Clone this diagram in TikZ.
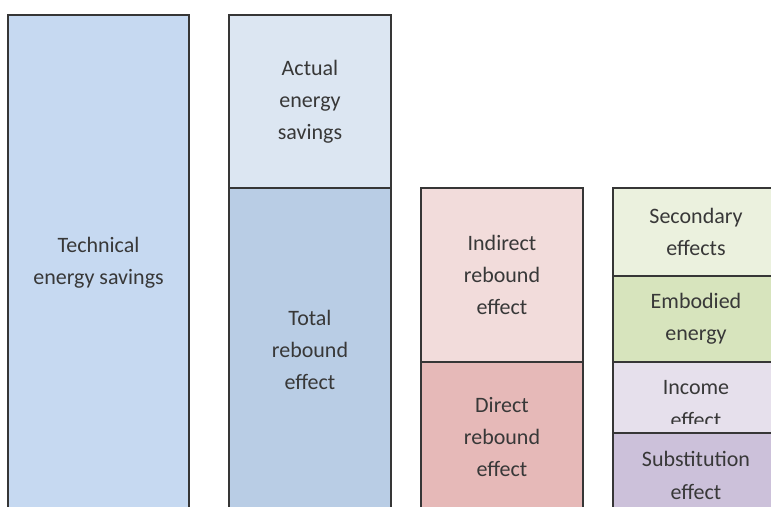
\documentclass[tikz,border=0pt]{standalone}
\usepackage{fontspec}
\setmainfont{Carlito}
\definecolor{edge}{HTML}{363636}
\definecolor{txt}{HTML}{383838}
\definecolor{cTech}{HTML}{C6D9F1}
\definecolor{cActual}{HTML}{DCE6F2}
\definecolor{cTotal}{HTML}{B9CDE5}
\definecolor{cIndirect}{HTML}{F2DCDB}
\definecolor{cDirect}{HTML}{E6B9B8}
\definecolor{cSecondary}{HTML}{EBF1DE}
\definecolor{cEmbodied}{HTML}{D7E4BD}
\definecolor{cIncome}{HTML}{E6E0EC}
\definecolor{cSubst}{HTML}{CCC1DA}
\tikzset{
  blockbox/.style={draw=edge, line width=1.4pt, rectangle, inner sep=0pt,
    text=txt, align=center, font=\fontsize{22}{32}\selectfont},
  labeltext/.style={text=txt, align=center, font=\fontsize{22}{33}\selectfont, inner sep=0pt}
}
\begin{document}
\begin{tikzpicture}[x=1pt,y=-1pt]
\useasboundingbox (0,0) rectangle (771,506);
\clip (0,0) rectangle (771,506);
\fill[white] (0,0) rectangle (771,506);
% column 1
\node[blockbox, fill=cTech, minimum width=181pt, minimum height=496pt] (tech) at (98.5,263) {Technical\\energy savings};
% column 2
\node[blockbox, fill=cActual, minimum width=162pt, minimum height=173pt] (actual) at (310,101.5) {Actual\\energy\\savings};
\node[blockbox, fill=cTotal, minimum width=162pt, minimum height=324pt] (total) at (310,350) {Total\\rebound\\effect};
% column 3
\node[blockbox, fill=cIndirect, minimum width=162pt, minimum height=174pt] (indirect) at (502,275) {Indirect\\rebound\\effect};
\node[blockbox, fill=cDirect, minimum width=162pt, minimum height=150pt] (direct) at (502,437) {Direct\\rebound\\effect};
% column 4
\node[blockbox, fill=cSecondary, minimum width=166pt, minimum height=88pt] (secondary) at (696,232) {Secondary\\effects};
\node[blockbox, fill=cEmbodied, minimum width=166pt, minimum height=86pt] (embodied) at (696,319) {Embodied\\energy};
\node[blockbox, fill=cIncome, minimum width=166pt, minimum height=71pt] (income) at (696,397.5) {};
\begin{scope}
  \clip (600,362) rectangle (771,423.5);
  \node[labeltext] (incometext) at (696,404) {Income\\effect};
\end{scope}
\node[blockbox, fill=cSubst, minimum width=166pt, minimum height=90pt] (subst) at (696,478) {};
\node[labeltext] (substtext) at (696,475) {Substitution\\effect};
\end{tikzpicture}
\end{document}
